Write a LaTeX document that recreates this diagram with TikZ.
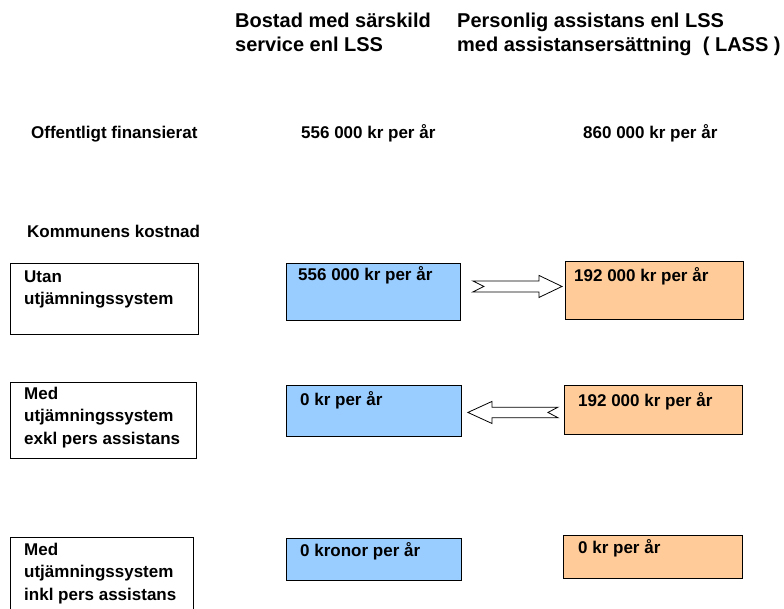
\documentclass[tikz,border=0pt]{standalone}
\usepackage{fontspec}
\setmainfont{Liberation Sans}
\usetikzlibrary{calc}

% strut that fixes the height of a first text line
\newcommand\lblstrut{\rule{0pt}{13pt}}
\newcommand\ttlstrut{\rule{0pt}{15pt}}

\definecolor{costblue}{HTML}{99CCFF}
\definecolor{costorange}{HTML}{FFCC99}

\tikzset{
  rowbox/.style={draw=black, line width=0.9pt, fill=white, rectangle,
    inner sep=0pt, anchor=north west},
  bluebox/.style={rowbox, fill=costblue},
  orangebox/.style={rowbox, fill=costorange},
  body/.style={inner sep=0pt, align=left,
    font=\fontsize{17}{22.5}\selectfont\bfseries},
  ttl/.style={inner sep=0pt, align=left, anchor=north west,
    font=\fontsize{20}{24}\selectfont\bfseries},
  blockarrow/.style={draw=black, line width=0.8pt, fill=white, line join=miter},
}

\begin{document}
\begin{tikzpicture}[x=1pt, y=-1pt]
\clip (0,0) rectangle (784,609);
\fill[white] (0,0) rectangle (784,609);

% column headings
\node[ttl] (h1) at (235,12) {\ttlstrut Bostad med särskild\\service enl LSS};
\node[ttl] (h2) at (457,12) {\ttlstrut Personlig assistans enl LSS\\med assistansersättning\ \ ( LASS )};

% publicly funded amounts
\node[body, anchor=base west] (pub)  at (31,138.3) {Offentligt finansierat};
\node[body, anchor=base west] (pub1) at (301,138.3) {556 000 kr per år};
\node[body, anchor=base west] (pub2) at (583,138.3) {860 000 kr per år};

\node[body, anchor=base west] (kom) at (27,238) {Kommunens kostnad};

% row captions
\node[rowbox, minimum width=188, minimum height=71] (l1) at (10,263) {};
\node[rowbox, minimum width=186, minimum height=76] (l2) at (10,382) {};
\node[rowbox, minimum width=183, minimum height=90] (l3) at (10,537) {};
\node[body, anchor=north west] (t1) at ($(l1.north west)+(14,6)$) {\lblstrut Utan\\utjämningssystem};
\node[body, anchor=north west] (t2) at ($(l2.north west)+(14,4)$) {\lblstrut Med\\utjämningssystem\\exkl pers assistans};
\node[body, anchor=north west] (t3) at ($(l3.north west)+(14,5)$) {\lblstrut Med\\utjämningssystem\\inkl pers assistans};

% municipal cost, housing column
\node[bluebox, minimum width=174, minimum height=57] (b1) at (286,263) {};
\node[bluebox, minimum width=175, minimum height=51] (b2) at (286,385) {};
\node[bluebox, minimum width=175, minimum height=42] (b3) at (286,538) {};
\node[body, anchor=base west] (bt1) at ($(b1.north west)+(12,17.5)$) {556 000 kr per år};
\node[body, anchor=base west] (bt2) at ($(b2.north west)+(14,20.5)$) {0 kr per år};
\node[body, anchor=base west] (bt3) at ($(b3.north west)+(14,18)$) {0 kronor per år};

% municipal cost, assistance column
\node[orangebox, minimum width=178, minimum height=58] (o1) at (565,261) {};
\node[orangebox, minimum width=178, minimum height=49] (o2) at (564,385) {};
\node[orangebox, minimum width=179, minimum height=43] (o3) at (563,535) {};
\node[body, anchor=base west] (ot1) at ($(o1.north west)+(9,20.5)$) {192 000 kr per år};
\node[body, anchor=base west] (ot2) at ($(o2.north west)+(14,21)$) {192 000 kr per år};
\node[body, anchor=base west] (ot3) at ($(o3.north west)+(15,18)$) {0 kr per år};

% notched block arrow from the housing box to the assistance box
\coordinate (r1) at ($(b1.east)+(12,-5.5)$);
\coordinate (r2) at ($(o1.west)+(-3,-4)$);
\draw[blockarrow] ($(r1)+(0,-5.5)$) -- ($(r1)+(11,0)$) -- ($(r1)+(0,5.5)$)
  -- ($(r2)+(-23,5.5)$) -- ($(r2)+(-23,11)$) -- (r2)
  -- ($(r2)+(-23,-11)$) -- ($(r2)+(-23,-5.5)$) -- cycle;

% notched block arrow back from the assistance box to the housing box
\coordinate (s1) at ($(o2.west)+(-6,2.5)$);
\coordinate (s2) at ($(b2.east)+(6,1.5)$);
\draw[blockarrow] ($(s1)+(0,-5.3)$) -- ($(s1)+(-10,0)$) -- ($(s1)+(0,5.3)$)
  -- ($(s2)+(24,5.3)$) -- ($(s2)+(24,11)$) -- (s2)
  -- ($(s2)+(24,-11)$) -- ($(s2)+(24,-5.3)$) -- cycle;
\end{tikzpicture}
\end{document}
